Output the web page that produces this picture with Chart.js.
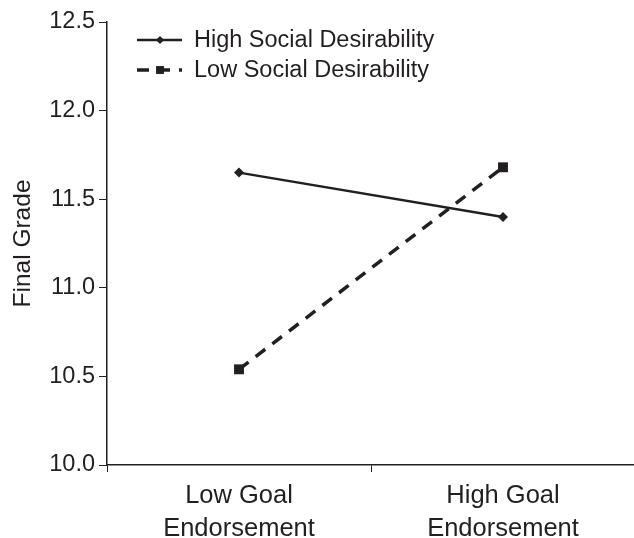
<!DOCTYPE html>
<html lang="en">
<head>
    <meta charset="UTF-8">
    <title>Final Grade</title>
    <script src="https://cdn.jsdelivr.net/npm/chart.js"></script>
    <style>
        body { margin: 0; background: #fff; overflow: hidden; }
        #wrap { width: 642px; height: 538px; }
    </style>
</head>
<body>
    <div id="wrap"><canvas id="grafica"></canvas></div>

    <script>
        // data
        const categorias = [["Low Goal", "Endorsement"], ["High Goal", "Endorsement"]];
        const altaDeseabilidad = [11.65, 11.40];
        const bajaDeseabilidad = [10.54, 11.68];
        const etiquetasSeries = ["High Social Desirability", "Low Social Desirability"];
        const yMin = 10.0, yMax = 12.5, yPaso = 0.5;

        const tinta = "#231f20";
        const fuente = "'Liberation Sans', Arial, sans-serif";

        // legend drawn inside the plot, top left
        const leyenda = {
            id: "leyenda",
            afterDraw(chart) {
                const ctx = chart.ctx;
                chart.data.datasets.forEach((ds, i) => {
                    const y = 40 + i * 30;
                    ctx.save();
                    ctx.strokeStyle = ds.borderColor;
                    ctx.lineWidth = ds.borderWidth;
                    ctx.setLineDash(ds.borderDash || []);
                    ctx.beginPath();
                    ctx.moveTo(137, y);
                    ctx.lineTo(182, y);
                    ctx.stroke();
                    ctx.setLineDash([]);
                    ctx.fillStyle = ds.pointBackgroundColor;
                    Chart.helpers.drawPoint(ctx, {
                        pointStyle: ds.pointStyle, radius: ds.pointRadius * 0.8, borderWidth: 0
                    }, 160, y);
                    ctx.fillStyle = tinta;
                    ctx.font = "23.5px " + fuente;
                    ctx.textBaseline = "middle";
                    ctx.fillText(ds.label, 194, y + 1);
                    ctx.restore();
                });
            }
        };

        const ctx = document.getElementById("grafica").getContext("2d");
        const grafica = new Chart(ctx, {
            type: "line",
            data: {
                labels: categorias,
                datasets: [{
                    label: etiquetasSeries[0],
                    data: altaDeseabilidad,
                    borderColor: tinta,
                    borderWidth: 2.5,
                    pointStyle: "rectRot",
                    pointRadius: 5,
                    pointBackgroundColor: tinta,
                    pointBorderWidth: 0,
                    fill: false
                }, {
                    label: etiquetasSeries[1],
                    data: bajaDeseabilidad,
                    borderColor: tinta,
                    borderWidth: 3.5,
                    borderDash: [12, 9],
                    pointStyle: "rect",
                    pointRadius: 7,
                    pointBackgroundColor: tinta,
                    pointBorderWidth: 0,
                    fill: false
                }]
            },
            options: {
                responsive: true,
                maintainAspectRatio: false,
                animation: false,
                layout: { padding: { top: 22, right: 0, left: 0, bottom: 0 } },
                plugins: { legend: { display: false }, tooltip: { enabled: false } },
                scales: {
                    x: {
                        offset: true,
                        grid: { offset: true, drawOnChartArea: false, color: tinta, tickLength: 7 },
                        border: { color: tinta, width: 1.5 },
                        ticks: { color: tinta, font: { family: fuente, size: 25.5, lineHeight: 1.3 }, padding: 7, maxRotation: 0 },
                        afterFit(s) { s.height = 73; }
                    },
                    y: {
                        min: yMin,
                        max: yMax,
                        grid: { drawOnChartArea: false, color: tinta, tickLength: 8 },
                        border: { color: tinta, width: 1.5 },
                        ticks: {
                            stepSize: yPaso,
                            color: tinta,
                            padding: 4,
                            font: { family: fuente, size: 23.5 },
                            callback: v => v.toFixed(1)
                        },
                        title: {
                            display: true,
                            text: "Final Grade",
                            color: tinta,
                            font: { family: fuente, size: 24.5 },
                            padding: { top: 9, bottom: 0 }
                        },
                        afterFit(s) { s.width = 107; }
                    }
                }
            },
            plugins: [leyenda]
        });
    </script>
</body>
</html>
